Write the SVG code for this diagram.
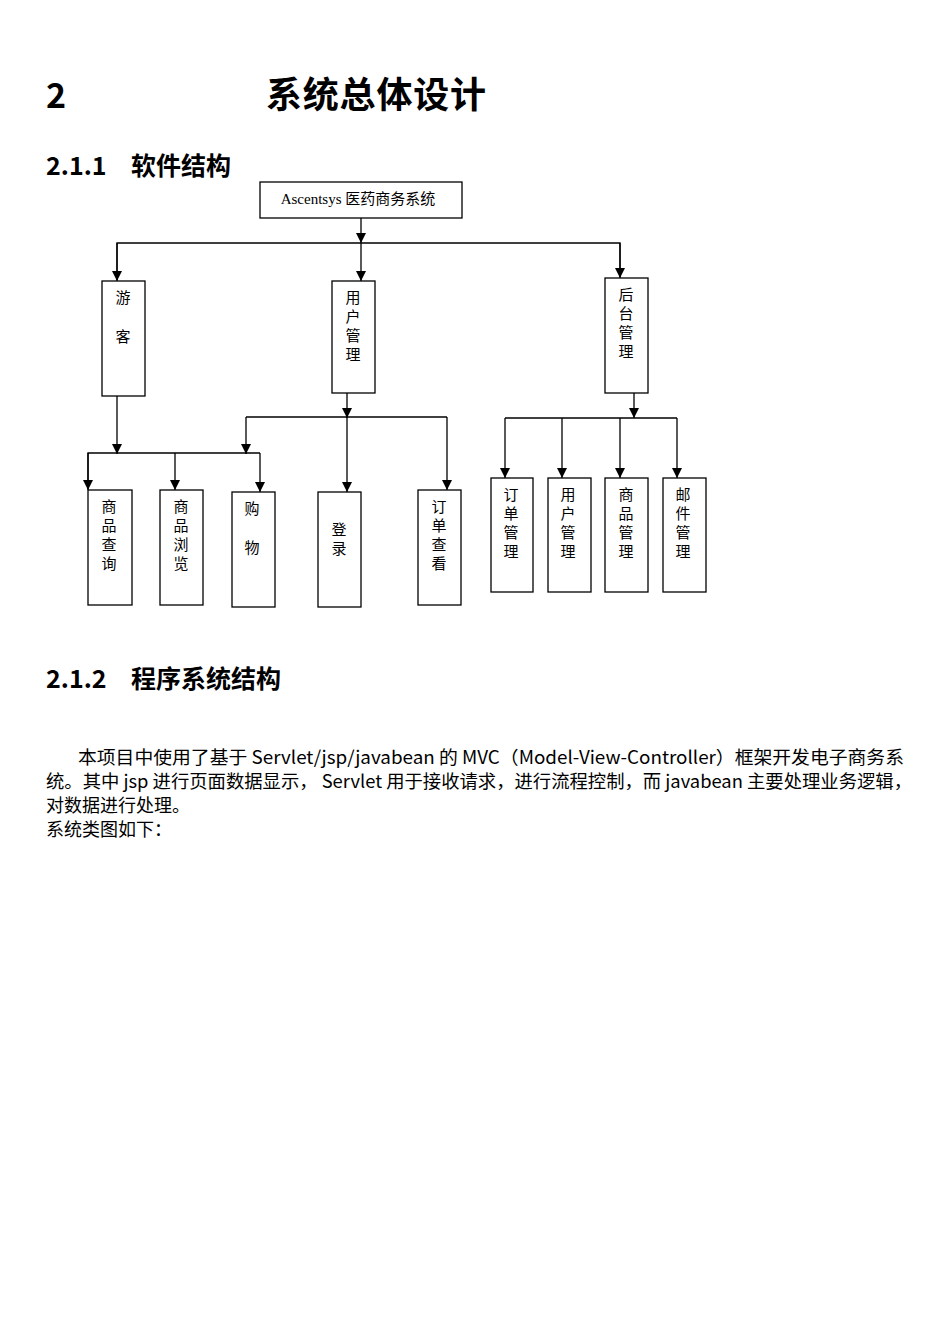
<svg xmlns="http://www.w3.org/2000/svg" width="950" height="1344" viewBox="0 0 950 1344">
<style>
.b{fill:#fff;stroke:#000;stroke-width:1.3}
.c{fill:none;stroke:#000;stroke-width:1.3}
.v{font-family:"Liberation Serif","Noto Sans CJK SC",serif;font-size:15px;fill:#000;text-anchor:middle}
.h{font-family:"Noto Sans CJK SC","Noto Sans",sans-serif;font-weight:bold;fill:#000}
.p{font-family:"Noto Sans CJK SC","Noto Sans",sans-serif;font-size:18px;fill:#000}
</style>
<defs><marker id="a" markerWidth="10" markerHeight="10" refX="10" refY="5" orient="auto" markerUnits="userSpaceOnUse" viewBox="0 0 10 10"><path d="M0,0 L10,5 L0,10 Z" fill="#000"/></marker></defs>
<rect width="950" height="1344" fill="#fff"/>
<text class="h" x="46" y="108" font-size="34">2</text>
<text class="h" x="266" y="108" font-size="36" textLength="220">系统总体设计</text>
<text class="h" x="46" y="175" font-size="25">2.1.1</text>
<text class="h" x="131" y="175" font-size="25">软件结构</text>
<text class="h" x="46" y="688" font-size="25">2.1.2</text>
<text class="h" x="131" y="688" font-size="25">程序系统结构</text>
<g id="connectors">
<path class="c" d="M361,218 V243" marker-end="url(#a)"/>
<path class="c" d="M117,280 V243 H620 V277"/>
<path class="c" d="M117,243 V281" marker-end="url(#a)"/>
<path class="c" d="M361,243 V281" marker-end="url(#a)"/>
<path class="c" d="M620,243 V278" marker-end="url(#a)"/>
<path class="c" d="M117,396 V454" marker-end="url(#a)"/>
<path class="c" d="M88,489 V453 H260"/>
<path class="c" d="M88,453 V490" marker-end="url(#a)"/>
<path class="c" d="M175,453 V490" marker-end="url(#a)"/>
<path class="c" d="M260,453 V492" marker-end="url(#a)"/>
<path class="c" d="M347,393 V418" marker-end="url(#a)"/>
<path class="c" d="M246,417 H447"/>
<path class="c" d="M246,417 V454" marker-end="url(#a)"/>
<path class="c" d="M347,417 V492" marker-end="url(#a)"/>
<path class="c" d="M447,417 V490" marker-end="url(#a)"/>
<path class="c" d="M634,393 V418" marker-end="url(#a)"/>
<path class="c" d="M505,418 H677"/>
<path class="c" d="M505,418 V478" marker-end="url(#a)"/>
<path class="c" d="M562,418 V478" marker-end="url(#a)"/>
<path class="c" d="M620,418 V478" marker-end="url(#a)"/>
<path class="c" d="M677,418 V478" marker-end="url(#a)"/>
</g>
<g id="root"><rect class="b" x="260" y="182" width="202" height="36"/><text class="v" x="358" y="204" font-size="16">Ascentsys 医药商务系统</text></g>
<g id="guest"><rect class="b" x="102" y="281" width="43" height="115"/><text class="v" x="123" y="303">游</text><text class="v" x="123" y="342">客</text></g>
<g id="user"><rect class="b" x="332" y="281" width="43" height="112"/><text class="v" x="353" y="303">用</text><text class="v" x="353" y="322">户</text><text class="v" x="353" y="341">管</text><text class="v" x="353" y="360">理</text></g>
<g id="admin"><rect class="b" x="605" y="278" width="43" height="115"/><text class="v" x="626" y="300">后</text><text class="v" x="626" y="319">台</text><text class="v" x="626" y="338">管</text><text class="v" x="626" y="357">理</text></g>
<g id="query"><rect class="b" x="88" y="490" width="44" height="115"/><text class="v" x="109" y="512">商</text><text class="v" x="109" y="531">品</text><text class="v" x="109" y="550">查</text><text class="v" x="109" y="569">询</text></g>
<g id="browse"><rect class="b" x="160" y="490" width="43" height="115"/><text class="v" x="181" y="512">商</text><text class="v" x="181" y="531">品</text><text class="v" x="181" y="550">浏</text><text class="v" x="181" y="569">览</text></g>
<g id="shop"><rect class="b" x="232" y="492" width="43" height="115"/><text class="v" x="252" y="514">购</text><text class="v" x="252" y="553">物</text></g>
<g id="login"><rect class="b" x="318" y="492" width="43" height="115"/><text class="v" x="339" y="535">登</text><text class="v" x="339" y="554">录</text></g>
<g id="order"><rect class="b" x="418" y="490" width="43" height="115"/><text class="v" x="439" y="512">订</text><text class="v" x="439" y="531">单</text><text class="v" x="439" y="550">查</text><text class="v" x="439" y="569">看</text></g>
<g id="om"><rect class="b" x="491" y="478" width="42" height="114"/><text class="v" x="511" y="500">订</text><text class="v" x="511" y="519">单</text><text class="v" x="511" y="538">管</text><text class="v" x="511" y="557">理</text></g>
<g id="um"><rect class="b" x="548" y="478" width="43" height="114"/><text class="v" x="568" y="500">用</text><text class="v" x="568" y="519">户</text><text class="v" x="568" y="538">管</text><text class="v" x="568" y="557">理</text></g>
<g id="pm"><rect class="b" x="605" y="478" width="43" height="114"/><text class="v" x="626" y="500">商</text><text class="v" x="626" y="519">品</text><text class="v" x="626" y="538">管</text><text class="v" x="626" y="557">理</text></g>
<g id="mm"><rect class="b" x="663" y="478" width="43" height="114"/><text class="v" x="683" y="500">邮</text><text class="v" x="683" y="519">件</text><text class="v" x="683" y="538">管</text><text class="v" x="683" y="557">理</text></g>
<text class="p" x="78" y="764" textLength="826" lengthAdjust="spacingAndGlyphs">本项目中使用了基于 Servlet/jsp/javabean 的 MVC（Model-View-Controller）框架开发电子商务系</text>
<text class="p" x="46" y="788" textLength="866" lengthAdjust="spacingAndGlyphs">统。其中 jsp 进行页面数据显示， Servlet 用于接收请求，进行流程控制，而 javabean 主要处理业务逻辑，</text>
<text class="p" x="46" y="812">对数据进行处理。</text>
<text class="p" x="46" y="836">系统类图如下：</text>
</svg>
